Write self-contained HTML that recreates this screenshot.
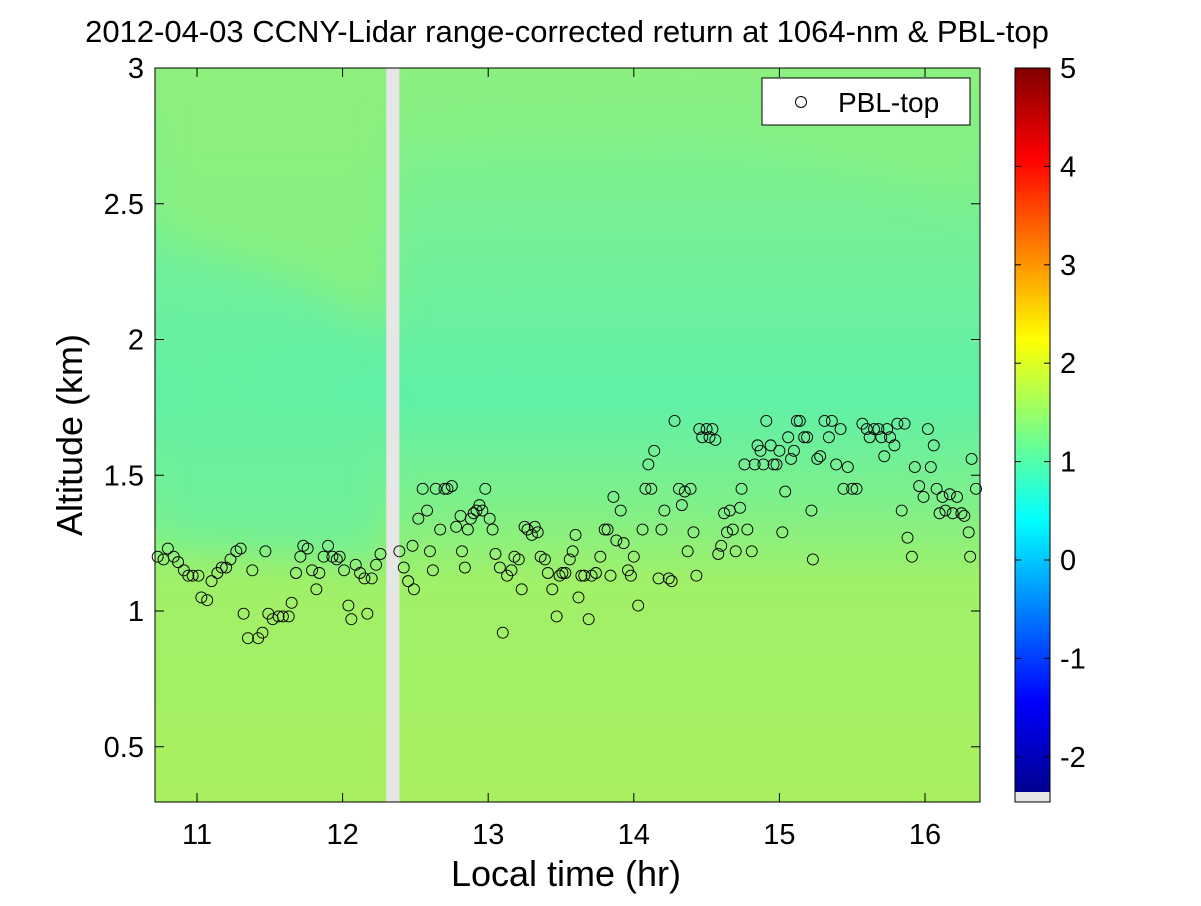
<!DOCTYPE html>
<html><head><meta charset="utf-8"><style>
body{margin:0;background:#fff;width:1201px;height:901px;overflow:hidden}
svg text{font-family:"Liberation Sans",Arial,sans-serif;fill:#000}
</style></head><body>
<svg id="chart" width="1201" height="901" viewBox="0 0 1201 901">
<defs>
<linearGradient id="bg" x1="0" y1="0" x2="0" y2="1">
<stop offset="0" stop-color="#8cf080"/><stop offset="0.15" stop-color="#7cf090"/>
<stop offset="0.45" stop-color="#60f0a8"/><stop offset="0.6" stop-color="#80f088"/>
<stop offset="0.7" stop-color="#a0f068"/><stop offset="1" stop-color="#a8f060"/>
</linearGradient>
<linearGradient id="jet" x1="0" y1="1" x2="0" y2="0">
<stop offset="0" stop-color="#00008f"/><stop offset="0.125" stop-color="#0000ff"/>
<stop offset="0.375" stop-color="#00ffff"/><stop offset="0.625" stop-color="#ffff00"/>
<stop offset="0.875" stop-color="#ff0000"/><stop offset="1" stop-color="#800000"/>
</linearGradient>
<filter id="blur"><feGaussianBlur stdDeviation="18"/></filter>
<clipPath id="clip"><rect x="155" y="68" width="825" height="734"/></clipPath>
</defs>
<text x="567" y="42" font-size="31" text-anchor="middle">2012-04-03 CCNY-Lidar range-corrected return at 1064-nm &amp; PBL-top</text>
<g clip-path="url(#clip)">
<rect x="155" y="68" width="825" height="734" fill="url(#bg)"/>
<g filter="url(#blur)" opacity="0.7">
<path d="M155 68 L390 68 L390 330 L300 280 L155 230 Z" fill="#90f078"/>
<path d="M400 140 L700 120 L980 200 L980 80 L400 80 Z" fill="#88f080"/>
<path d="M155 300 L380 420 L380 560 L155 540 Z" fill="#68f0a0"/>
</g>
</g>
<g id="axes"></g>
<g id="points"></g>
<rect x="762" y="78" width="208" height="47" fill="#fff" stroke="#000"/>
<circle cx="801" cy="102" r="5.5" fill="none" stroke="#000"/>
<text x="838" y="112" font-size="28">PBL-top</text>
<text x="566" y="886" font-size="36" text-anchor="middle">Local time (hr)</text>
<text x="0" y="0" font-size="36" text-anchor="middle" transform="translate(82,435) rotate(-90)">Altitude (km)</text>
<rect x="1015" y="68" width="35" height="724" fill="url(#jet)"/>
<rect x="1015" y="792" width="35" height="10" fill="#e6e6e6"/>
<g id="cbar"></g>
</svg>
<script>
const xTicks=[11,12,13,14,15,16];
const yTicks=[0.5,1,1.5,2,2.5,3];
const yTickLabels=["0.5","1","1.5","2","2.5","3"];
const cTicks=[-2,-1,0,1,2,3,4,5];
const gapRange=[12.3,12.39];
const pblTime=[10.73,10.77,10.80,10.84,10.87,10.91,10.94,10.97,11.01,11.03,11.07,11.10,11.14,11.17,11.20,11.23,11.27,11.30,11.32,11.35,11.38,11.42,11.45,11.47,11.49,11.52,11.56,11.59,11.63,11.65,11.68,11.71,11.73,11.76,11.79,11.82,11.84,11.87,11.90,11.93,11.96,11.98,12.01,12.04,12.06,12.09,12.12,12.15,12.17,12.20,12.23,12.26,
12.39,12.42,12.45,12.48,12.49,12.52,12.55,12.58,12.60,12.62,12.64,12.67,12.70,12.72,12.75,12.78,12.81,12.82,12.84,12.86,12.88,12.90,12.92,12.94,12.96,12.98,13.01,13.03,13.05,13.08,13.10,13.13,13.16,13.18,13.21,13.23,13.25,13.27,13.30,13.32,13.34,13.36,13.39,13.41,13.44,13.47,13.49,13.51,13.53,13.56,13.58,13.60,13.62,13.64,13.66,13.69,13.71,13.74,13.77,13.80,13.82,13.84,13.86,13.88,13.91,13.93,13.96,13.98,14.00,14.03,14.06,14.08,14.10,14.12,14.14,14.17,14.19,14.21,14.24,14.26,14.28,14.31,14.33,14.35,14.37,14.39,14.41,14.43,14.45,14.47,14.50,14.52,14.54,14.56,14.58,14.60,14.62,14.64,14.66,14.68,14.70,14.73,14.74,14.76,14.78,14.81,14.83,14.85,14.87,14.89,14.91,14.94,14.96,14.98,15.00,15.02,15.04,15.06,15.08,15.10,15.12,15.14,15.17,15.19,15.22,15.23,15.26,15.28,15.31,15.34,15.36,15.39,15.42,15.44,15.47,15.50,15.53,15.57,15.60,15.62,15.65,15.68,15.70,15.72,15.74,15.76,15.79,15.81,15.84,15.86,15.88,15.91,15.93,15.96,15.99,16.02,16.04,16.06,16.08,16.10,16.12,16.14,16.17,16.19,16.22,16.25,16.27,16.30,16.31,16.32,16.35];
const pblHeight=[1.20,1.19,1.23,1.20,1.18,1.15,1.13,1.13,1.13,1.05,1.04,1.11,1.14,1.16,1.16,1.19,1.22,1.23,0.99,0.90,1.15,0.90,0.92,1.22,0.99,0.97,0.98,0.98,0.98,1.03,1.14,1.20,1.24,1.23,1.15,1.08,1.14,1.20,1.24,1.20,1.19,1.20,1.15,1.02,0.97,1.17,1.14,1.12,0.99,1.12,1.17,1.21,
1.22,1.16,1.11,1.24,1.08,1.34,1.45,1.37,1.22,1.15,1.45,1.30,1.45,1.45,1.46,1.31,1.35,1.22,1.16,1.30,1.34,1.36,1.37,1.39,1.37,1.45,1.34,1.30,1.21,1.16,0.92,1.13,1.15,1.20,1.19,1.08,1.31,1.30,1.28,1.31,1.29,1.20,1.19,1.14,1.08,0.98,1.13,1.14,1.14,1.19,1.22,1.28,1.05,1.13,1.13,0.97,1.13,1.14,1.20,1.30,1.30,1.13,1.42,1.26,1.37,1.25,1.15,1.13,1.20,1.02,1.30,1.45,1.54,1.45,1.59,1.12,1.30,1.37,1.12,1.11,1.70,1.45,1.39,1.44,1.22,1.45,1.29,1.13,1.67,1.64,1.67,1.64,1.67,1.63,1.21,1.24,1.36,1.29,1.37,1.30,1.22,1.38,1.45,1.54,1.30,1.22,1.54,1.61,1.59,1.54,1.70,1.61,1.54,1.54,1.59,1.29,1.44,1.64,1.56,1.59,1.70,1.70,1.64,1.64,1.37,1.19,1.56,1.57,1.70,1.64,1.70,1.54,1.67,1.45,1.53,1.45,1.45,1.69,1.67,1.64,1.67,1.67,1.64,1.57,1.67,1.64,1.61,1.69,1.37,1.69,1.27,1.20,1.53,1.46,1.42,1.67,1.53,1.61,1.45,1.36,1.42,1.37,1.43,1.36,1.42,1.36,1.35,1.29,1.20,1.56,1.45];
const NS="http://www.w3.org/2000/svg";
const L=155,R=980,T=68,B=802;
const X=t=>197+(t-11)*145.6;
const Y=h=>611-(h-1)*271.5;
const C=v=>560-v*98.4;
function mk(tag,attrs,parent){const e=document.createElementNS(NS,tag);for(const k in attrs)e.setAttribute(k,attrs[k]);parent.appendChild(e);return e;}
const axes=document.getElementById('axes');
const gap=mk('rect',{x:X(gapRange[0]),y:T,width:X(gapRange[1])-X(gapRange[0]),height:B-T,fill:'#e6e6e6'},axes);


const frame=mk('rect',{x:L,y:T,width:R-L,height:B-T,fill:'none',stroke:'#000','stroke-width':1},axes);


xTicks.forEach(t=>{const x=X(t);
mk('line',{x1:x,y1:B,x2:x,y2:B-9,stroke:'#000'},axes);
mk('line',{x1:x,y1:T,x2:x,y2:T+9,stroke:'#000'},axes);
const tx=mk('text',{x:x,y:B+42,'font-size':29,'text-anchor':'middle'},axes);tx.textContent=t;

});
yTicks.forEach((h,i)=>{const y=Y(h);
mk('line',{x1:L,y1:y,x2:L+9,y2:y,stroke:'#000'},axes);
mk('line',{x1:R,y1:y,x2:R-9,y2:y,stroke:'#000'},axes);
const tx=mk('text',{x:L-11,y:y+10,'font-size':29,'text-anchor':'end'},axes);tx.textContent=yTickLabels[i];

});
const pts=document.getElementById('points');
pblTime.forEach((t,i)=>{const c=mk('circle',{cx:X(t),cy:Y(pblHeight[i]),r:5.5,fill:'none',stroke:'#000','stroke-width':0.9},pts);

});
const cb=document.getElementById('cbar');
const cf=mk('rect',{x:1015,y:T,width:35,height:B-T,fill:'none',stroke:'#000'},cb);


cTicks.forEach(v=>{const y=C(v);
mk('line',{x1:1015,y1:y,x2:1021,y2:y,stroke:'#000'},cb);
mk('line',{x1:1050,y1:y,x2:1044,y2:y,stroke:'#000'},cb);
const tx=mk('text',{x:1060,y:y+10,'font-size':29},cb);tx.textContent=v;

});
</script>
</body></html>
